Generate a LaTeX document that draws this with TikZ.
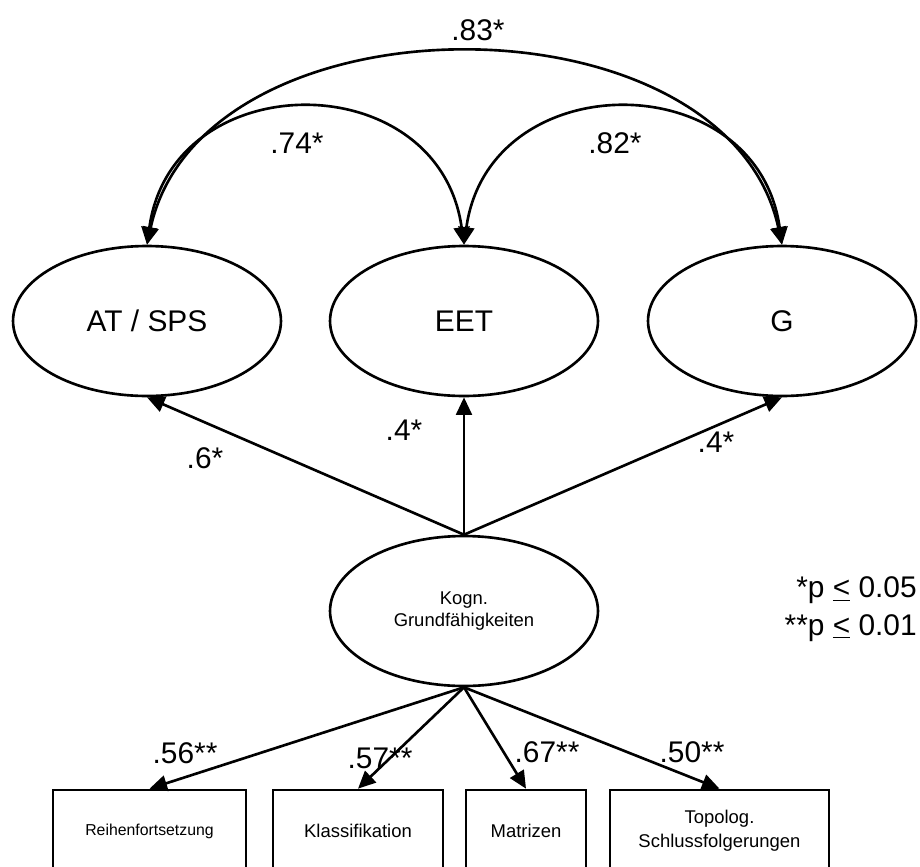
\documentclass[tikz,border=0pt]{standalone}
\usepackage{fontspec}
\setmainfont{Liberation Sans}
\usetikzlibrary{shapes.geometric,arrows.meta}

\begin{document}
\begin{tikzpicture}[x=0.02cm,y=-0.02cm,line width=1.5pt,
  latent node/.style={ellipse,draw,minimum width=5.36cm,minimum height=3cm,inner sep=0pt,font=\fontsize{17}{20}\selectfont},
  manifest node/.style={rectangle,draw,minimum height=1.64cm,inner sep=0pt,align=center,font=\fontsize{10.5}{13.5}\selectfont},
  coef/.style={font=\fontsize{17}{21.5}\selectfont},
  pfeil/.style={-{Triangle[length=10pt,width=9pt]}},
  doppelpfeil/.style={{Triangle[length=10pt,width=9pt]}-{Triangle[length=10pt,width=9pt]}}]

  \clip (0,0) rectangle (920,866);

  % latente Variablen
  \node[latent node] (at) at (147,321) {AT / SPS};
  \node[latent node] (eet) at (464,321) {EET};
  \node[latent node] (g) at (782,321) {G};
  \node[latent node,align=center,font=\fontsize{10.5}{12.5}\selectfont] (kogn) at (464,611) {Kogn.\\Grundfähigkeiten};

  % Indikatoren
  \node[manifest node,minimum width=3.86cm,font=\fontsize{9}{11}\selectfont] (reihe) at (149.5,831) {Reihenfortsetzung};
  \node[manifest node,minimum width=3.4cm] (klass) at (358,831) {Klassifikation};
  \node[manifest node,minimum width=2.4cm] (matr) at (526,831) {Matrizen};
  \node[manifest node,minimum width=4.38cm] (topo) at (719.5,831) {Topolog.\\Schlussfolgerungen};

  % Korrelationen
  \draw[doppelpfeil] (at.north) .. controls +(55,-255) and +(-55,-255) .. (g.north);
  \draw[doppelpfeil] (at.north) .. controls +(25,-181) and +(-25,-181) .. (eet.north);
  \draw[doppelpfeil] (eet.north) .. controls +(25,-181) and +(-25,-181) .. (g.north);

  \path[pfeil]
    (kogn.north) edge (at.south)
    (kogn.north) edge (eet.south)
    (kogn.north) edge (g.south)

    (kogn.south) edge (reihe.north)
    (kogn.south) edge (klass.north)
    (kogn.south) edge (matr.north)
    (kogn.south) edge (topo.north);

  % Koeffizienten
  \node[coef] (k83) at (478,30) {.83*};
  \node[coef] (k74) at (297,143) {.74*};
  \node[coef] (k82) at (615,143) {.82*};
  \node[coef] (k6) at (205,458) {.6*};
  \node[coef] (k4a) at (404,430) {.4*};
  \node[coef] (k4b) at (716,442) {.4*};
  \node[coef] (k56) at (185,753) {.56**};
  \node[coef] (k57) at (380,758) {.57**};
  \node[coef] (k67) at (547,752) {.67**};
  \node[coef] (k50) at (692,752) {.50**};

  \node[coef,anchor=east,align=right,inner sep=0pt] (legende) at (918,609) {*p \underline{<} 0.05\\**p \underline{<} 0.01};

\end{tikzpicture}
\end{document}
